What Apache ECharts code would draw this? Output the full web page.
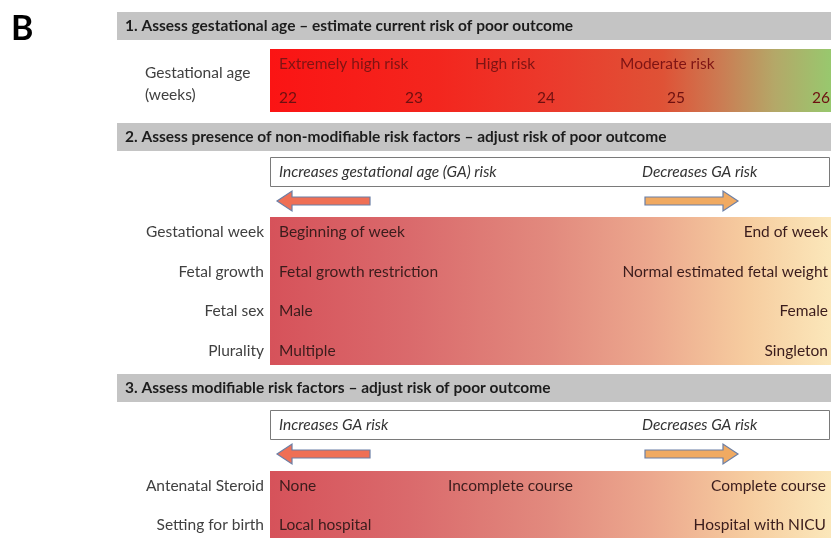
<!DOCTYPE html>
<html><head><meta charset="utf-8">
<script src="https://cdn.jsdelivr.net/npm/echarts@6/dist/echarts.min.js"></script>
<style>html,body{margin:0;padding:0;background:#fff}#c{width:831px;height:538px}</style>
</head><body><div id="c"></div>
<script>
var panelLetter = 'B';
var headers = [
  '1. Assess gestational age \u2013 estimate current risk of poor outcome',
  '2. Assess presence of non-modifiable risk factors \u2013 adjust risk of poor outcome',
  '3. Assess modifiable risk factors \u2013 adjust risk of poor outcome'
];
var gaLabel = ['Gestational age', '(weeks)'];
var gaWeeks = ['22', '23', '24', '25', '26'];
var gaRisk = ['Extremely high risk', 'High risk', 'Moderate risk'];
var dirLabels2 = ['Increases gestational age (GA) risk', 'Decreases GA risk'];
var dirLabels3 = ['Increases GA risk', 'Decreases GA risk'];
var nonModFactors = ['Gestational week', 'Fetal growth', 'Fetal sex', 'Plurality'];
var nonModLeft = ['Beginning of week', 'Fetal growth restriction', 'Male', 'Multiple'];
var nonModRight = ['End of week', 'Normal estimated fetal weight', 'Female', 'Singleton'];
var modFactors = ['Antenatal Steroid', 'Setting for birth'];
var modLeft = ['None', 'Local hospital'];
var modMid = ['Incomplete course', ''];
var modRight = ['Complete course', 'Hospital with NICU'];

var FONT = 'Lato, "Open Sans", sans-serif';
var FS = 15.5;
var chart = echarts.init(document.getElementById('c'));
var g = [];
var X0 = 270, X1 = 831;

function txt(x, y, s, o) {
  o = o || {};
  g.push({type: 'text', x: x, y: y, silent: true, style: {
    text: s, fill: o.fill || '#222', font: (o.italic ? 'italic ' : '') + (o.bold ? 'bold ' : '') + (o.size || FS) + 'px ' + FONT,
    textAlign: o.align || 'left', textVerticalAlign: 'middle'
  }});
}
function header(y, s) {
  g.push({type: 'rect', shape: {x: 117, y: y, width: 714, height: 28}, style: {fill: '#c4c4c4'}});
  txt(125, y + 14, s, {bold: true, fill: '#1c1c1c'});
}
function arrowL(x, y) {
  g.push({type: 'polygon', shape: {points: [[x, y], [x + 15, y - 10], [x + 15, y - 4], [x + 93, y - 4], [x + 93, y + 4], [x + 15, y + 4], [x + 15, y + 10]]},
    style: {fill: '#ef6f55', stroke: '#6b7fa6', lineWidth: 1.2}});
}
function arrowR(x, y) {
  g.push({type: 'polygon', shape: {points: [[x, y - 4], [x + 78, y - 4], [x + 78, y - 10], [x + 93, y], [x + 78, y + 10], [x + 78, y + 4], [x, y + 4]]},
    style: {fill: '#f0aa62', stroke: '#6b7fa6', lineWidth: 1.2}});
}
function dirBox(y, labels) {
  g.push({type: 'rect', shape: {x: X0 + 0.5, y: y + 0.5, width: X1 - X0 - 2, height: 29}, style: {fill: '#fff', stroke: '#7a7a7a', lineWidth: 1}});
  txt(279, y + 15, labels[0], {italic: true, fill: '#333'});
  txt(642, y + 15, labels[1], {italic: true, fill: '#333'});
  arrowL(277, y + 44);
  arrowR(645, y + 44);
}
var band2Grad = [
  {offset: 0, color: '#d6525a'}, {offset: 0.25, color: '#da6a6c'}, {offset: 0.5, color: '#e28a7e'},
  {offset: 0.68, color: '#eca88e'}, {offset: 0.85, color: '#f6cc9f'}, {offset: 1, color: '#fbe7ba'}
];

// Panel letter
txt(11, 29, panelLetter, {bold: true, size: 34, fill: '#000'});

// Section 1
header(12, headers[0]);
g.push({type: 'rect', shape: {x: X0, y: 49, width: X1 - X0, height: 63}, style: {
  fill: new echarts.graphic.LinearGradient(0, 0, 1, 0, [
    {offset: 0, color: '#fb1414'}, {offset: 0.3, color: '#f3261e'}, {offset: 0.5, color: '#eb3a2c'},
    {offset: 0.7, color: '#df5236'}, {offset: 0.8, color: '#cc7a52'}, {offset: 0.9, color: '#b4a868'}, {offset: 1, color: '#98c86e'}
  ])}});
txt(145, 73, gaLabel[0], {fill: '#404040'});
txt(145, 95, gaLabel[1], {fill: '#404040'});
var riskX = [279, 475, 620];
gaRisk.forEach(function (s, i) { txt(riskX[i], 64, s, {fill: '#7e1414'}); });
var weekX = [279, 405, 537, 667, 830];
gaWeeks.forEach(function (s, i) { txt(weekX[i], 98, s, {fill: '#6e1010', align: i === gaWeeks.length - 1 ? 'right' : 'left'}); });

// Section 2
header(123, headers[1]);
dirBox(157, dirLabels2);
g.push({type: 'rect', shape: {x: X0, y: 217, width: X1 - X0, height: 148}, style: {
  fill: new echarts.graphic.LinearGradient(0, 0, 1, 0, band2Grad)}});
nonModFactors.forEach(function (s, i) {
  var y = 232 + i * 39.7;
  txt(264, y, s, {fill: '#404040', align: 'right'});
  txt(279, y, nonModLeft[i], {fill: '#3a1c1c'});
  txt(828, y, nonModRight[i], {fill: '#3a1c1c', align: 'right'});
});

// Section 3
header(374, headers[2]);
dirBox(410, dirLabels3);
g.push({type: 'rect', shape: {x: X0, y: 471, width: X1 - X0, height: 80}, style: {
  fill: new echarts.graphic.LinearGradient(0, 0, 1, 0, band2Grad)}});
modFactors.forEach(function (s, i) {
  var y = 486 + i * 39;
  txt(264, y, s, {fill: '#404040', align: 'right'});
  txt(279, y, modLeft[i], {fill: '#3a1c1c'});
  if (modMid[i]) txt(448, y, modMid[i], {fill: '#3a1c1c'});
  txt(826, y, modRight[i], {fill: '#3a1c1c', align: 'right'});
});

chart.setOption({animation: false, graphic: {elements: g}});
</script></body></html>
